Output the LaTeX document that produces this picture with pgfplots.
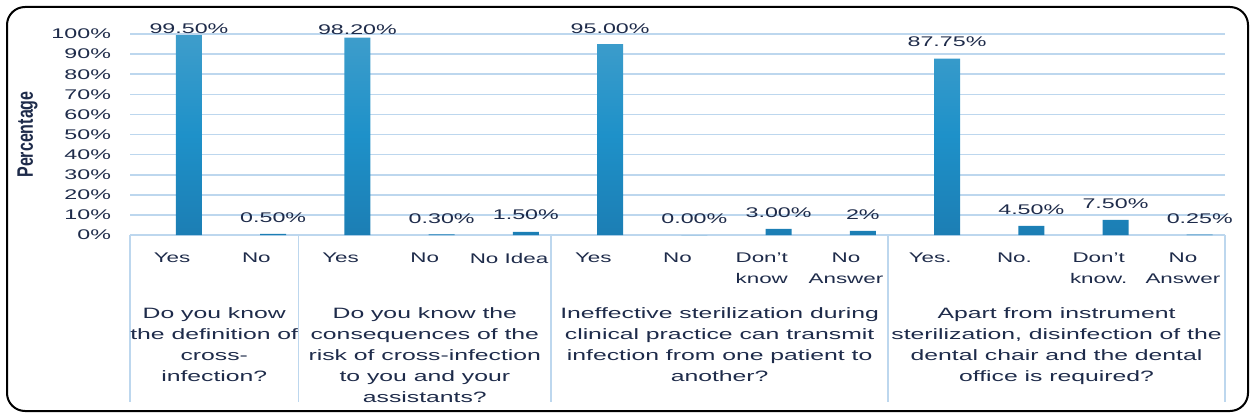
\documentclass[border=0pt]{standalone}
\usepackage{pgfplots}
\pgfplotsset{compat=1.18}
\usepackage{fontspec}
\setmainfont{Liberation Sans}[FakeStretch=1.6]
\newfontfamily\numfont{Liberation Sans}[FakeStretch=1.66]
\newfontfamily\qfont{Liberation Sans}[FakeStretch=1.65]
\newfontfamily\labfont{Liberation Sans}
\definecolor{barA}{HTML}{3E9DCB}
\definecolor{barM}{HTML}{1E91C9}
\definecolor{barB}{HTML}{1C7EB4}
\definecolor{txt}{HTML}{1E2B4A}
\definecolor{gridc}{HTML}{BDD7EE}
\pgfplotstableread{
x     y
0.2   99.5
1.2   0.5
2.2   98.2
3.2   0.3
4.2   1.5
5.2   95
6.2   0
7.2   3
8.2   2
9.2   87.75
10.2  4.5
11.2  7.5
12.2  0.25
}\bars
\pgfplotstableread{
x     ly    lab
0.2   96.7  99.50\%
1.2   2.65  0.50\%
2.2   96.3  98.20\%
3.2   2.3   0.30\%
4.2   4.1   1.50\%
5.2   96.8  95.00\%
6.2   2.1   0.00\%
7.2   5.1   3.00\%
8.2   4.1   2\%
9.2   90.2  87.75\%
10.2  6.6   4.50\%
11.2  9.6   7.50\%
12.2  2.2   0.25\%
}\labels
\begin{document}
\begin{tikzpicture}
\path (0,0) rectangle (625.5pt,209pt);
\draw[line width=1pt, rounded corners=9pt] (3.5pt,3.5pt) rectangle (624pt,205.5pt);
\begin{axis}[
  at={(65pt,91.5pt)}, anchor=south west,
  scale only axis, width=547.5pt, height=100.5pt,
  xmin=-0.5, xmax=12.5, ymin=0, ymax=100,
  clip=false,
  axis line style={draw=none},
  major tick length=0pt,
  ytick={0,10,...,100},
  ymajorgrids, grid style={gridc, line width=0.8pt},
  /pgf/number format/assume math mode=true,
  yticklabel={\pgfmathprintnumber{\tick}\%},
  yticklabel style={font=\numfont\fontsize{7pt}{9pt}\selectfont, text=txt, xshift=-6pt},
  xtick={0,...,12},
  xticklabels={Yes,No,Yes,No,No Idea,Yes,No,Don’t\\know,No\\Answer,Yes.,No.,Don’t\\know.,No\\Answer},
  xticklabel style={font=\fontsize{7pt}{10.5pt}\selectfont, text=txt, align=center, anchor=north, yshift=-5.5pt},
  ylabel={\labfont\bfseries\scalebox{1}[1.4]{Percentage}},
  ylabel style={at={(axis description cs:-0.0936,0.5)}, anchor=center, font=\fontsize{8pt}{10pt}\selectfont, text=txt},
]
\addplot[ybar, bar width=13pt, bar shift=0pt, draw=none, top color=barA, bottom color=barB, middle color=barM] table[x=x,y=y] {\bars};
\addplot[draw=none, mark=none, nodes near coords, point meta=explicit symbolic,
  every node near coord/.append style={font=\numfont\fontsize{7pt}{9pt}\selectfont, text=txt}] table[x=x,y=ly,meta=lab] {\labels};
\foreach \sx in {-0.5,1.5,4.5,8.5,12.5} {
  \edef\temp{\noexpand\draw[gridc, line width=0.8pt] (axis cs:\sx,0) -- ([yshift=-83.5pt]axis cs:\sx,0);}
  \temp
}
\begin{scope}[every node/.style={anchor=north, align=center, text=txt, font=\qfont\fontsize{7.5pt}{10.5pt}\selectfont, yshift=-32.6pt}]
\node at (axis cs:0.5,0) {Do you know\\the definition of\\cross-\\infection?};
\node at (axis cs:3,0) {Do you know the\\consequences of the\\risk of cross-infection\\to you and your\\assistants?};
\node at (axis cs:6.5,0) {Ineffective sterilization during\\clinical practice can transmit\\infection from one patient to\\another?};
\node at (axis cs:10.5,0) {Apart from instrument\\sterilization, disinfection of the\\dental chair and the dental\\office is required?};
\end{scope}
\end{axis}
\end{tikzpicture}
\end{document}
